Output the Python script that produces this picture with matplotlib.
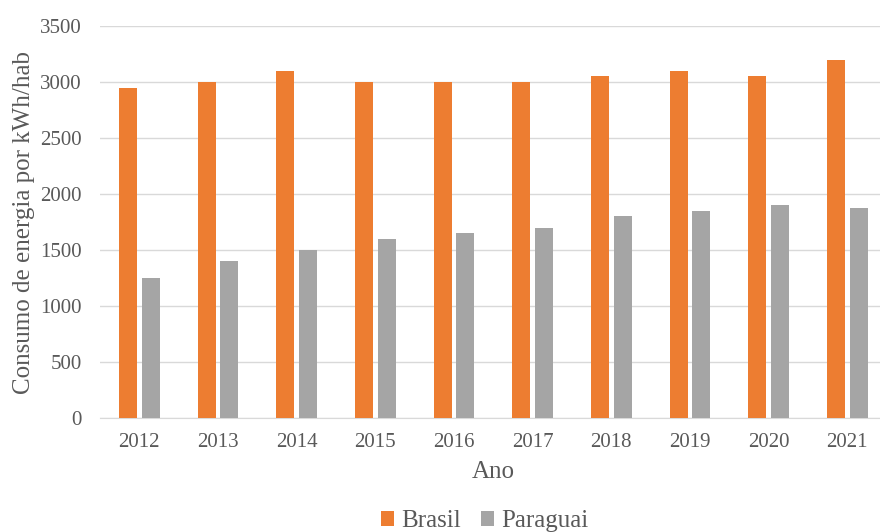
import matplotlib
matplotlib.use("Agg")
import matplotlib.pyplot as plt
import numpy as np

anos = ['2012', '2013', '2014', '2015', '2016', '2017', '2018', '2019', '2020', '2021']
brasil = [2950, 3000, 3100, 3000, 3000, 3000, 3050, 3100, 3050, 3200]
paraguai = [1250, 1400, 1500, 1600, 1650, 1700, 1800, 1850, 1900, 1875]

plt.rcParams['font.family'] = ['Liberation Serif', 'DejaVu Serif']
txt = '#595959'

fig = plt.figure(figsize=(8.8, 5.32), dpi=100, facecolor='white')
ax = fig.add_axes([0.1136, 0.2143, 0.894, 0.7367])

x = np.arange(len(anos))
w = 0.23
ax.bar(x - 0.145, brasil, w, color='#ED7D31', label='Brasil', zorder=3)
ax.bar(x + 0.145, paraguai, w, color='#A5A5A5', label='Paraguai', zorder=3)

ax.set_xlim(-0.5, len(anos) - 0.5)
ax.set_ylim(0, 3500)
ax.set_yticks(np.arange(0, 3501, 500))
ax.set_xticks(x)
ax.set_xticklabels(anos)
ax.tick_params(axis='both', length=0, labelsize=15, colors=txt)
ax.tick_params(axis='y', pad=13)
ax.tick_params(axis='x', pad=11)
ax.grid(axis='y', color='#D9D9D9', linewidth=1, zorder=0)
for s in ['top', 'right', 'left']:
    ax.spines[s].set_visible(False)
ax.spines['bottom'].set_color('#D9D9D9')

ax.set_ylabel('Consumo de energia por kWh/hab', fontsize=18, color=txt, labelpad=4)
ax.set_xlabel('Ano', fontsize=18, color=txt, labelpad=6)

fig.legend(loc='center', bbox_to_anchor=(0.551, 0.02), ncol=2, frameon=False,
           prop={'family': 'Liberation Serif', 'size': 18}, labelcolor=txt,
           handlelength=0.52, handleheight=0.52, handletextpad=0.3, columnspacing=0.8)

fig.savefig('out.png', dpi=100, facecolor=fig.get_facecolor())
